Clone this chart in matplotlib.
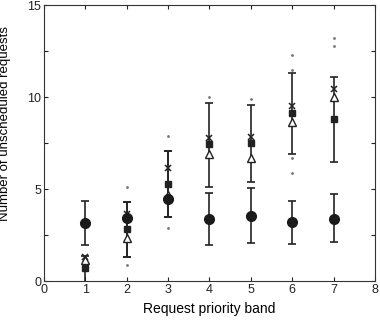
import numpy as np
import matplotlib
matplotlib.use("Agg")
import matplotlib.pyplot as plt

plt.rcParams['font.family'] = ['Liberation Sans', 'DejaVu Sans']

bands = [1, 2, 3, 4, 5, 6, 7]

# filled circles with their own error bars
circulo = [3.18, 3.44, 4.47, 3.37, 3.56, 3.20, 3.40]
circulo_bajo = [1.97, 1.30, 3.51, 1.95, 2.06, 2.01, 2.12]
circulo_alto = [4.38, 4.29, 7.09, 4.78, 5.05, 4.38, 4.72]

# other series
cuadrado = [0.71, 2.82, 5.30, 7.44, 7.52, 9.12, 8.81]
cruz = [1.30, 3.65, 6.13, 7.76, 7.85, 9.52, 10.42]
triangulo = [1.15, 2.37, 4.69, 6.89, 6.68, 8.66, 9.99]

# second set of error bars
barra_bajo = [-0.4, 1.30, 3.51, 5.10, 5.41, 6.89, 6.49]
barra_alto = [1.37, 4.29, 7.09, 9.70, 9.59, 11.29, 11.11]

# small dots outside the bars
puntos_x = [2, 2, 3, 3, 4, 5, 6, 6, 6, 6, 7, 7]
puntos_y = [5.10, 0.88, 7.89, 2.88, 9.99, 9.90, 12.29, 11.47, 6.68, 5.90, 13.19, 12.77]

fig = plt.figure(figsize=(3.8, 3.22), dpi=100)
ax = fig.add_axes([0.1158, 0.1264, 0.871, 0.858])

x = np.array(bands)
c = np.array(circulo)
ax.errorbar(x, c, yerr=[c - np.array(circulo_bajo), np.array(circulo_alto) - c],
            fmt='none', ecolor='#222222', elinewidth=1.2, capsize=3, capthick=1.2, zorder=2)
s = np.array(cuadrado)
ax.errorbar(x, s, yerr=[s - np.array(barra_bajo), np.array(barra_alto) - s],
            fmt='none', ecolor='#222222', elinewidth=1.2, capsize=3, capthick=1.2, zorder=2)

ax.plot(puntos_x, puntos_y, linestyle='none', marker='o', markersize=1.0,
        color='#777777', zorder=3)
ax.plot(x, triangulo, linestyle='none', marker='^', markersize=6,
        markerfacecolor='white', markeredgecolor='#222222', markeredgewidth=1, zorder=4)
ax.plot(x, cuadrado, linestyle='none', marker='s', markersize=5,
        color='#222222', zorder=5)
ax.plot(x, cruz, linestyle='none', marker='x', markersize=5,
        color='#222222', markeredgewidth=1.1, zorder=5)
ax.plot(x, circulo, linestyle='none', marker='o', markersize=7,
        color='#1a1a1a', zorder=6)

ax.set_xlim(0, 8)
ax.set_ylim(0, 15)
ax.set_xticks(range(0, 9))
yt = np.arange(0, 15.1, 2.5)
ax.set_yticks(yt)
ax.set_yticklabels([str(int(v)) if v % 5 == 0 else '' for v in yt])
ax.tick_params(direction='in', top=True, right=True, length=3, width=0.8,
               labelsize=9, colors='#222222', pad=2)
for sp in ax.spines.values():
    sp.set_linewidth(0.8)
    sp.set_color('#333333')

ax.set_xlabel("Request priority band", fontsize=10, labelpad=4)
ax.set_ylabel("Number of unscheduled requests", fontsize=9.5)
ax.yaxis.set_label_coords(-0.1, 0.57)

fig.savefig("out.png", dpi=100)
